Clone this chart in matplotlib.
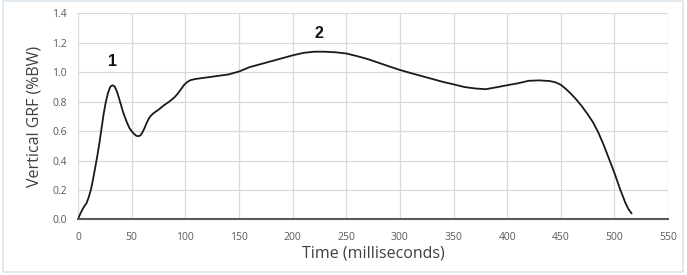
import matplotlib
matplotlib.use("Agg")
import matplotlib.pyplot as plt
from matplotlib.patches import Rectangle

time_ms = [0, 2, 4, 6, 8, 10, 12, 14, 16, 18, 20, 22, 24, 26, 28, 30, 32, 34, 36, 38,
           40, 42, 45, 48, 51, 54, 56, 58, 60, 62, 64, 66, 68, 71, 75, 80, 85, 90, 93,
           96, 99, 102, 105, 110, 120, 130, 140, 150, 160, 170, 180, 190, 200, 210,
           220, 230, 240, 250, 260, 270, 280, 290, 300, 310, 320, 330, 340, 350, 360,
           370, 380, 390, 400, 410, 420, 430, 440, 445, 450, 455, 460, 465, 470, 475,
           480, 485, 490, 495, 500, 505, 510, 513, 516]
grf_bw = [0.0, 0.035, 0.065, 0.09, 0.11, 0.15, 0.2, 0.27, 0.35, 0.43, 0.52, 0.62,
          0.72, 0.80, 0.86, 0.9, 0.912, 0.905, 0.875, 0.83, 0.78, 0.73, 0.67, 0.62,
          0.59, 0.57, 0.565, 0.57, 0.59, 0.62, 0.655, 0.685, 0.705, 0.725, 0.745,
          0.775, 0.80, 0.83, 0.855, 0.885, 0.915, 0.935, 0.947, 0.955, 0.965, 0.975,
          0.985, 1.005, 1.035, 1.055, 1.075, 1.095, 1.115, 1.132, 1.14, 1.14, 1.136,
          1.128, 1.11, 1.09, 1.065, 1.04, 1.016, 0.995, 0.975, 0.955, 0.935, 0.918,
          0.90, 0.89, 0.885, 0.898, 0.912, 0.925, 0.942, 0.945, 0.94, 0.932, 0.915,
          0.885, 0.85, 0.81, 0.765, 0.715, 0.66, 0.59, 0.505, 0.41, 0.315, 0.21, 0.115,
          0.07, 0.04]

peak_labels = ["1", "2"]
peak_t = [32.6, 224.4]
peak_v = [1.07, 1.267]

x_ticks = list(range(0, 551, 50))
y_ticks = [0.0, 0.2, 0.4, 0.6, 0.8, 1.0, 1.2, 1.4]

plt.rcParams['font.family'] = ['Open Sans', 'DejaVu Sans']

fig = plt.figure(figsize=(6.87, 2.75), dpi=100)
fig.patches.append(Rectangle((0.004, 0.012), 0.99, 0.985, transform=fig.transFigure,
                             fill=False, edgecolor="#dce5ec", linewidth=1.2))
ax = fig.add_axes([0.1135, 0.2025, 0.859, 0.7485])

ax.plot(time_ms, grf_bw, color="#1a1a1a", linewidth=1.3, solid_capstyle="round",
        solid_joinstyle="round")
for lab, t, v in zip(peak_labels, peak_t, peak_v):
    ax.text(t, v, lab, ha="center", va="center", fontsize=11.5, fontweight="bold",
            color="#111111", family=["Liberation Sans", "DejaVu Sans"])

ax.set_xlim(0, 550)
ax.set_ylim(0, 1.4)
ax.set_xticks(x_ticks)
ax.set_yticks(y_ticks)
ax.set_yticklabels([f"{v:.1f}" for v in y_ticks])
ax.grid(True, color="#d9d9d9", linewidth=0.9)
ax.set_axisbelow(True)
for s in ["top", "right", "left"]:
    ax.spines[s].set_visible(False)
ax.spines["bottom"].set_color("#595959")
ax.spines["bottom"].set_linewidth(1.5)
ax.tick_params(axis="both", length=0, labelsize=7.5, labelcolor="#595959")
ax.tick_params(axis="x", pad=9)
ax.tick_params(axis="y", pad=8)
ax.set_xlabel("Time (milliseconds)", fontsize=11.5, color="#404040", labelpad=2)
ax.set_ylabel("Vertical GRF (%BW)", fontsize=11.5, color="#404040", labelpad=7)

fig.savefig("out.png", dpi=100)
